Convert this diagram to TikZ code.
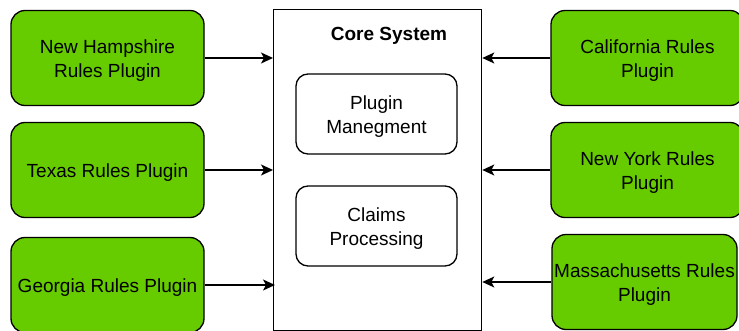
\documentclass[tikz,border=0pt]{standalone}
\usepackage{fontspec}
\setmainfont{Liberation Sans}
\usetikzlibrary{arrows.meta}
\definecolor{plugingreen}{HTML}{66CC00}
\begin{document}
\begin{tikzpicture}[x=1pt,y=-1pt,
  % a tall invisible strut beside the text sets it a little lower in its box
  lowered/.style={execute at begin node={\rule{0pt}{19pt}}},
  lowered two/.style={execute at begin node={\rule{0pt}{43pt}}},
  plugin/.style={draw=black,line width=1.3pt,fill=plugingreen,rounded corners=14pt,
    minimum width=193pt,minimum height=95pt,align=center,inner sep=0pt,
    font=\fontsize{19}{24}\selectfont},
  module/.style={draw=black,line width=1.3pt,fill=white,rounded corners=12pt,
    minimum width=161pt,minimum height=80pt,align=center,inner sep=0pt,lowered two,
    font=\fontsize{19}{24}\selectfont},
  link/.style={line width=1.3pt,-{Stealth[length=12pt,width=11pt,inset=3pt]}}]
\useasboundingbox (0,0) rectangle (739,331);
% core container
\node[draw=black,line width=1.3pt,minimum width=208pt,minimum height=321pt,inner sep=0pt,anchor=north west] (core) at (273,9) {};
\node[font=\fontsize{19}{24}\selectfont\bfseries] (title) at (389,36) {Core System};
\node[module] (mgmt) at (376.5,114) {Plugin\\Manegment};
\node[module] (claims) at (376.5,226) {Claims\\Processing};
% state plugins, left column
\node[plugin,lowered two] (nh) at (107.5,58) {New Hampshire\\Rules Plugin};
\node[plugin,lowered] (tx) at (107.5,170) {Texas Rules Plugin};
\node[plugin,lowered] (ga) at (107.5,285) {Georgia Rules Plugin};
% state plugins, right column
\node[plugin,lowered two] (ca) at (647.5,58) {California Rules\\Plugin};
\node[plugin,lowered two] (ny) at (647.5,170) {New York Rules\\Plugin};
\node[plugin,lowered two,minimum width=185pt] (ma) at (644.5,282) {Massachusetts Rules\\Plugin};
% connectors into the core
\coordinate (inNH) at (core.west |- nh.east);
\coordinate (inTX) at (core.west |- tx.east);
\coordinate (inGA) at ([xshift=2pt]core.west |- ga.east);
\coordinate (inCA) at (core.east |- ca.west);
\coordinate (inNY) at (core.east |- ny.west);
\coordinate (inMA) at (core.east |- ma.west);
\draw[link] (nh.east) -- (inNH);
\draw[link] (tx.east) -- (inTX);
\draw[link] (ga.east) -- (inGA);
\draw[link] (ca.west) -- (inCA);
\draw[link] (ny.west) -- (inNY);
\draw[link] (ma.west) -- (inMA);
\end{tikzpicture}
\end{document}
